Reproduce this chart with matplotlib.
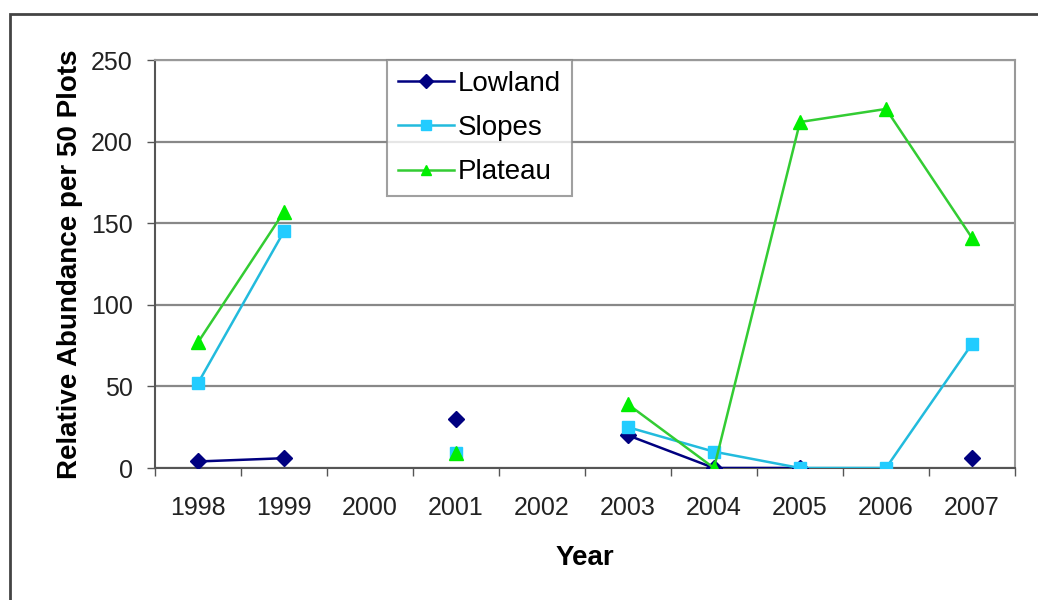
import numpy as np
import matplotlib
matplotlib.use("Agg")
import matplotlib.pyplot as plt
from matplotlib.patches import Rectangle

plt.rcParams['font.family'] = ['Liberation Sans', 'DejaVu Sans']

years = ['1998', '1999', '2000', '2001', '2002', '2003', '2004', '2005', '2006', '2007']
lowland = [4, 6, np.nan, 30, np.nan, 20, 0, 0, np.nan, 6]
slopes = [52, 145, np.nan, 9, np.nan, 25, 10, 0, 0, 76]
plateau = [77, 157, np.nan, 9, np.nan, 39, 0, 212, 220, 141]

W, H = 1038, 600
fig = plt.figure(figsize=(W / 100, H / 100), dpi=100)
ax = fig.add_axes([155 / W, 1 - 468 / H, (1015 - 155) / W, (468 - 60) / H])

x = np.arange(len(years))
ax.plot(x, lowland, color='#000080', lw=1.8, marker='D', ms=8, mfc='#000080', mec='#000080', label='Lowland', zorder=3)
ax.plot(x, slopes, color='#22BBDD', lw=1.8, marker='s', ms=8, mfc='#22CCFF', mec='#22CCFF', label='Slopes', zorder=4)
ax.plot(x, plateau, color='#33CC33', lw=1.8, marker='^', ms=10, mfc='#00EE00', mec='#00EE00', label='Plateau', zorder=5)

ax.set_xlim(-0.5, len(years) - 0.5)
ax.set_ylim(0, 250)
ax.set_yticks([0, 50, 100, 150, 200, 250])
ax.set_xticks(x)
ax.set_xticklabels(years)
ax.set_xticks(np.arange(-0.5, len(years)), minor=True)
ax.tick_params(axis='x', which='major', length=0, pad=20, labelsize=18, labelcolor='#222222')
ax.tick_params(axis='x', which='minor', length=6, width=1, color='#555555', direction='out')
ax.tick_params(axis='y', length=6, width=1, color='#555555', direction='out', pad=10, labelsize=18, labelcolor='#222222')

ax.grid(axis='y', color='#888888', lw=1.6)
ax.set_axisbelow(True)
for s in ['top', 'right']:
    ax.spines[s].set_color('#999999')
    ax.spines[s].set_linewidth(1.5)
for s in ['left', 'bottom']:
    ax.spines[s].set_color('#555555')
    ax.spines[s].set_linewidth(1.5)

ax.set_ylabel('Relative Abundance per 50 Plots', fontsize=20, fontweight='bold', labelpad=6)
ax.set_xlabel('Year', fontsize=20, fontweight='bold', labelpad=18)

leg = ax.legend(loc='upper left', bbox_to_anchor=((387 - 155) / (1015 - 155), 1.0),
                fontsize=20, frameon=True, fancybox=False, handlelength=2.0,
                borderpad=0.4, labelspacing=0.65, handletextpad=0.15, borderaxespad=0)
leg.get_frame().set_edgecolor('#888888')
leg.get_frame().set_linewidth(1.5)
for h in leg.legend_handles:
    h.set_markersize(7)

fig.patches.append(Rectangle((10 / W, -0.1), 1.2, 1 - 14 / H + 0.1, transform=fig.transFigure,
                             fill=False, edgecolor='#444444', lw=2, zorder=0))

fig.savefig('out.png', dpi=100)
